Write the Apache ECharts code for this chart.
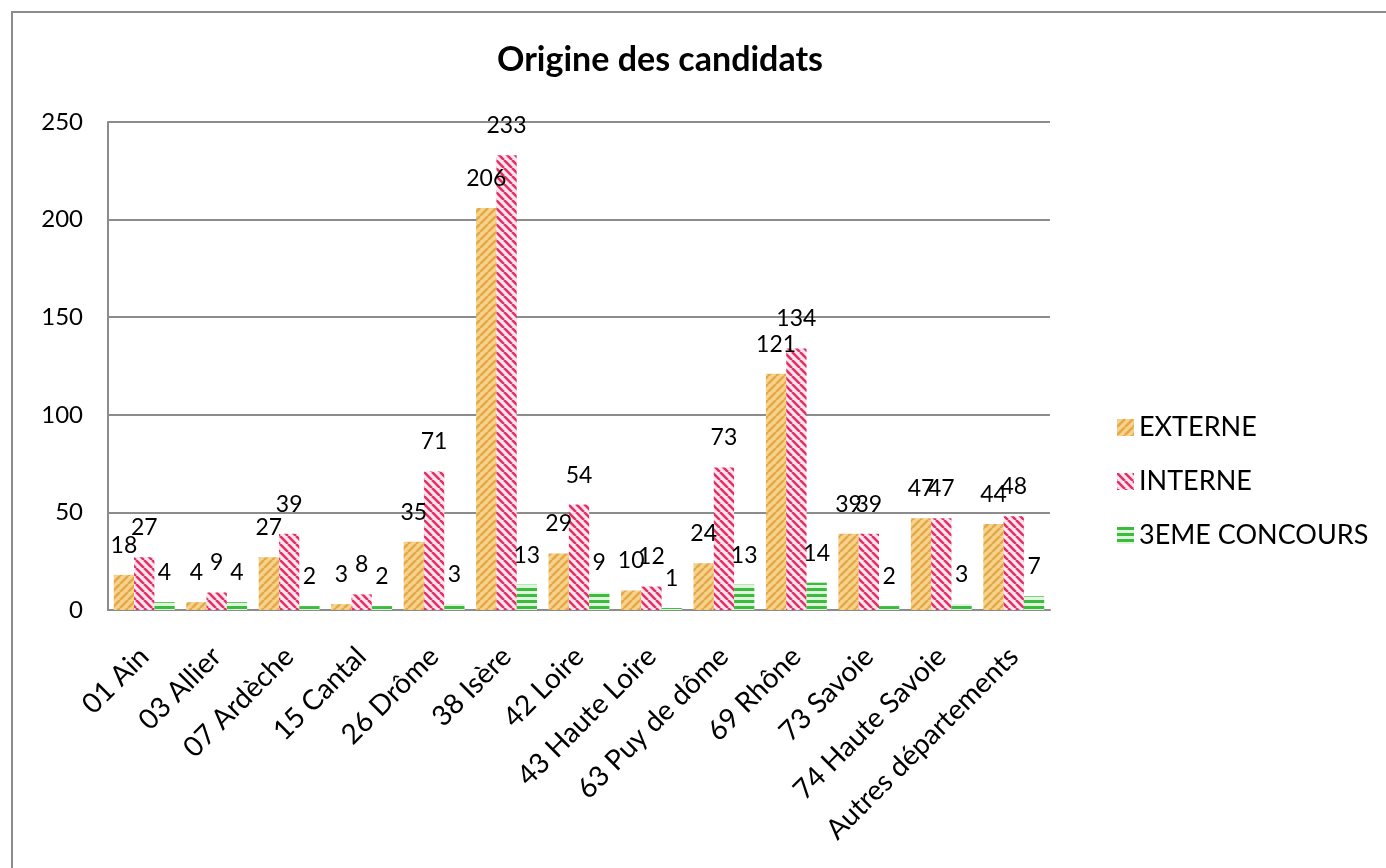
<!DOCTYPE html>
<html>
<head>
<meta charset="utf-8">
<script src="https://cdn.jsdelivr.net/npm/echarts@6/dist/echarts.min.js"></script>
<style>
html,body{margin:0;padding:0;background:#fff;}
#chart{width:1386px;height:868px;}
</style>
</head>
<body>
<div id="chart"></div>
<script>
var categories = ['01 Ain','03 Allier','07 Ardèche','15 Cantal','26 Drôme','38 Isère','42 Loire','43 Haute Loire','63 Puy de dôme','69 Rhône','73 Savoie','74 Haute Savoie','Autres départements'];
var externe = [18,4,27,3,35,206,29,10,24,121,39,47,44];
var interne = [27,9,39,8,71,233,54,12,73,134,39,47,48];
var troisieme = [4,4,2,2,3,13,9,1,13,14,2,3,7];

//motif de hachures pour les barres
function makePattern(bg, fg, kind){
	var c = document.createElement('canvas');
	var s = kind == 'h' ? 6 : 8;
	c.width = s; c.height = s;
	var ctx = c.getContext('2d');
	ctx.fillStyle = bg;
	ctx.fillRect(0,0,s,s);
	ctx.strokeStyle = fg;
	ctx.lineWidth = kind == 'h' ? 3 : 2.6;
	ctx.beginPath();
	if(kind == 'h'){
		ctx.moveTo(0,1.5); ctx.lineTo(s,1.5);
	}else if(kind == 'up'){
		for(var k=-1;k<=1;k++){
			ctx.moveTo(k*s, s); ctx.lineTo(k*s+s, 0);
		}
	}else{
		for(var k=-1;k<=1;k++){
			ctx.moveTo(k*s, 0); ctx.lineTo(k*s+s, s);
		}
	}
	ctx.stroke();
	return {image: c, repeat: 'repeat'};
}

var labelStyle = {
	show: true,
	position: 'top',
	distance: 18,
	color: '#000',
	fontSize: 23,
	fontFamily: 'Lato'
};

var chart = echarts.init(document.getElementById('chart'));
var option = {
	backgroundColor: '#fff',
	animation: false,
	textStyle: {fontFamily: 'Lato'},
	title: {
		text: 'Origine des candidats',
		left: 655,
		textAlign: 'center',
		top: 38,
		textStyle: {fontSize: 34, fontWeight: 'bold', color: '#000', fontFamily: 'Lato'}
	},
	graphic: [{
		type: 'rect',
		shape: {x: 12, y: 12, width: 1400, height: 900},
		style: {fill: 'none', stroke: '#8c8c8c', lineWidth: 2},
		silent: true
	}],
	legend: {
		orient: 'vertical',
		left: 1112,
		top: 409,
		itemGap: 27,
		itemWidth: 17,
		itemHeight: 17,
		icon: 'rect',
		textStyle: {fontSize: 27, color: '#000', fontFamily: 'Lato'},
		data: ['EXTERNE','INTERNE','3EME CONCOURS']
	},
	grid: {
		left: 108,
		right: 336,
		top: 122,
		bottom: 258,
		containLabel: false
	},
	xAxis: {
		type: 'category',
		data: categories,
		axisLine: {lineStyle: {color: '#8c8c8c', width: 2}},
		axisTick: {show: false},
		axisLabel: {rotate: 45, fontSize: 28, color: '#000', margin: 42, interval: 0, fontFamily: 'Lato'}
	},
	yAxis: {
		type: 'value',
		min: 0,
		max: 250,
		interval: 50,
		axisLine: {show: true, lineStyle: {color: '#8c8c8c', width: 2}},
		axisTick: {show: false},
		axisLabel: {fontSize: 24, color: '#000', margin: 25, fontFamily: 'Lato'},
		splitLine: {lineStyle: {color: '#8c8c8c', width: 2}}
	},
	series: [{
		name: 'EXTERNE',
		type: 'bar',
		data: externe,
		barGap: '0%',
		barCategoryGap: '16%',
		itemStyle: {color: makePattern('#f6d28c', '#e3a94a', 'up')},
		label: labelStyle
	}, {
		name: 'INTERNE',
		type: 'bar',
		data: interne,
		itemStyle: {color: makePattern('#fde8ee', '#e3306a', 'down')},
		label: labelStyle
	}, {
		name: '3EME CONCOURS',
		type: 'bar',
		data: troisieme,
		itemStyle: {color: makePattern('#dff5df', '#3dbb3d', 'h')},
		label: labelStyle
	}]
};
chart.setOption(option);
</script>
</body>
</html>
